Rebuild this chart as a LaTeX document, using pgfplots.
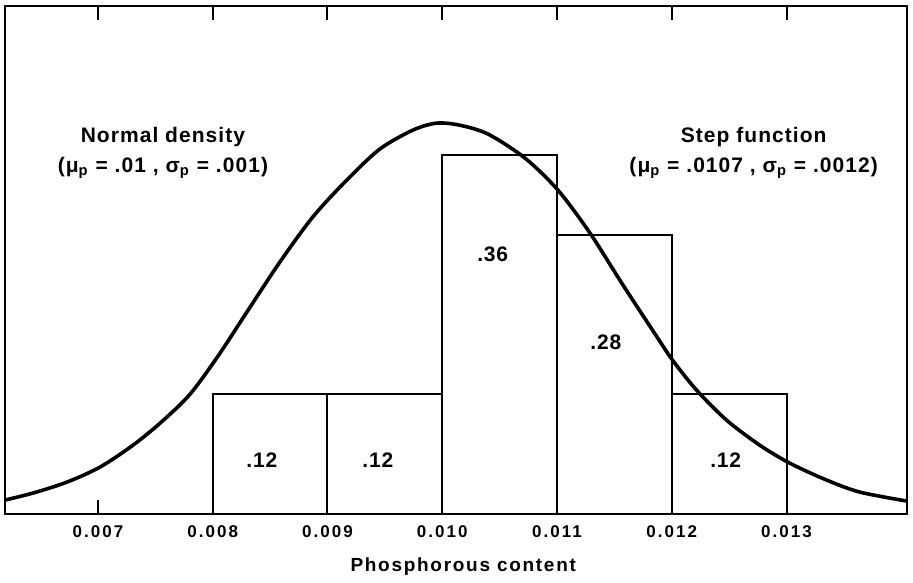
\documentclass[border=0pt]{standalone}
\usepackage{fontspec}
\setmainfont{Liberation Sans}
\usepackage{pgfplots}
\pgfplotsset{compat=1.18}

\newcommand{\spaced}[1]{\addfontfeatures{LetterSpace=#1}}

\begin{document}
\begin{tikzpicture}
\begin{axis}[
  scale only axis,
  width=451pt, height=254pt,
  xmin=0.00619, xmax=0.01405,
  ymin=0, ymax=0.5095,
  axis line style={line width=1.2pt},
  ytick=\empty,
  xtick={0.007,0.008,0.009,0.010,0.011,0.012,0.013},
  xticklabels={0.007,0.008,0.009,0.010,0.011,0.012,0.013},
  xtick pos=both,
  tick align=inside,
  major tick length=7pt,
  every tick/.style={black, line width=1pt},
  xticklabel style={anchor=center, yshift=-9pt,
                    font=\fontsize{8.5}{10}\selectfont\bfseries\spaced{12}},
  xlabel={Phosphorous content},
  xlabel style={at={(axis description cs:0.508,0)}, anchor=center, yshift=-26.5pt,
                font=\fontsize{9.5}{11}\selectfont\bfseries\spaced{9}},
  scaled x ticks=false,
  clip=false,
]
% step function: probability of each 0.001-wide class
\addplot[ybar interval, draw=black, fill=none, line width=1pt]
  coordinates {(0.008,0.12) (0.009,0.12) (0.010,0.36) (0.011,0.28) (0.012,0.12) (0.013,0.12)};

% normal density curve
\addplot[smooth, black, line width=1.8pt] coordinates {
  (0.006190,0.014) (0.006434,0.021) (0.006730,0.032) (0.007017,0.047)
  (0.007305,0.069) (0.007550,0.092) (0.007801,0.120) (0.008050,0.159)
  (0.008300,0.203) (0.008587,0.253) (0.008873,0.298) (0.009169,0.335)
  (0.009456,0.366) (0.009744,0.385) (0.009950,0.392) (0.010150,0.390)
  (0.010400,0.381) (0.010720,0.357) (0.011007,0.325) (0.011286,0.282)
  (0.011573,0.230) (0.011869,0.178) (0.012009,0.154) (0.012218,0.124)
  (0.012479,0.094) (0.012767,0.069) (0.013028,0.051) (0.013350,0.034)
  (0.013638,0.022) (0.014047,0.013)
};

% class probabilities
\begin{scope}[font=\fontsize{10.5}{12}\selectfont\bfseries\spaced{4}]
\node at (axis cs:0.008428,0.054) {.12};
\node at (axis cs:0.009439,0.054) {.12};
\node at (axis cs:0.010440,0.260) {.36};
\node at (axis cs:0.011425,0.172) {.28};
\node at (axis cs:0.012470,0.054) {.12};
\end{scope}

% annotations
\node[font=\fontsize{10.5}{12}\selectfont\bfseries\spaced{5}, align=center]
  at (axis cs:0.007566,0.362) {Normal density\\[3pt](μ\textsubscript{p} = .01 , σ\textsubscript{p} = .001)};
\node[font=\fontsize{10.5}{12}\selectfont\bfseries\spaced{5}, align=center]
  at (axis cs:0.012714,0.362) {Step function\\[3pt](μ\textsubscript{p} = .0107 , σ\textsubscript{p} = .0012)};

\coordinate (bl) at (rel axis cs:0,0);
\coordinate (tr) at (rel axis cs:1,1);
\end{axis}
\path (bl) ++(-2.5pt,-32.5pt);
\path (tr) ++(3pt,3pt);
\end{tikzpicture}
\end{document}
